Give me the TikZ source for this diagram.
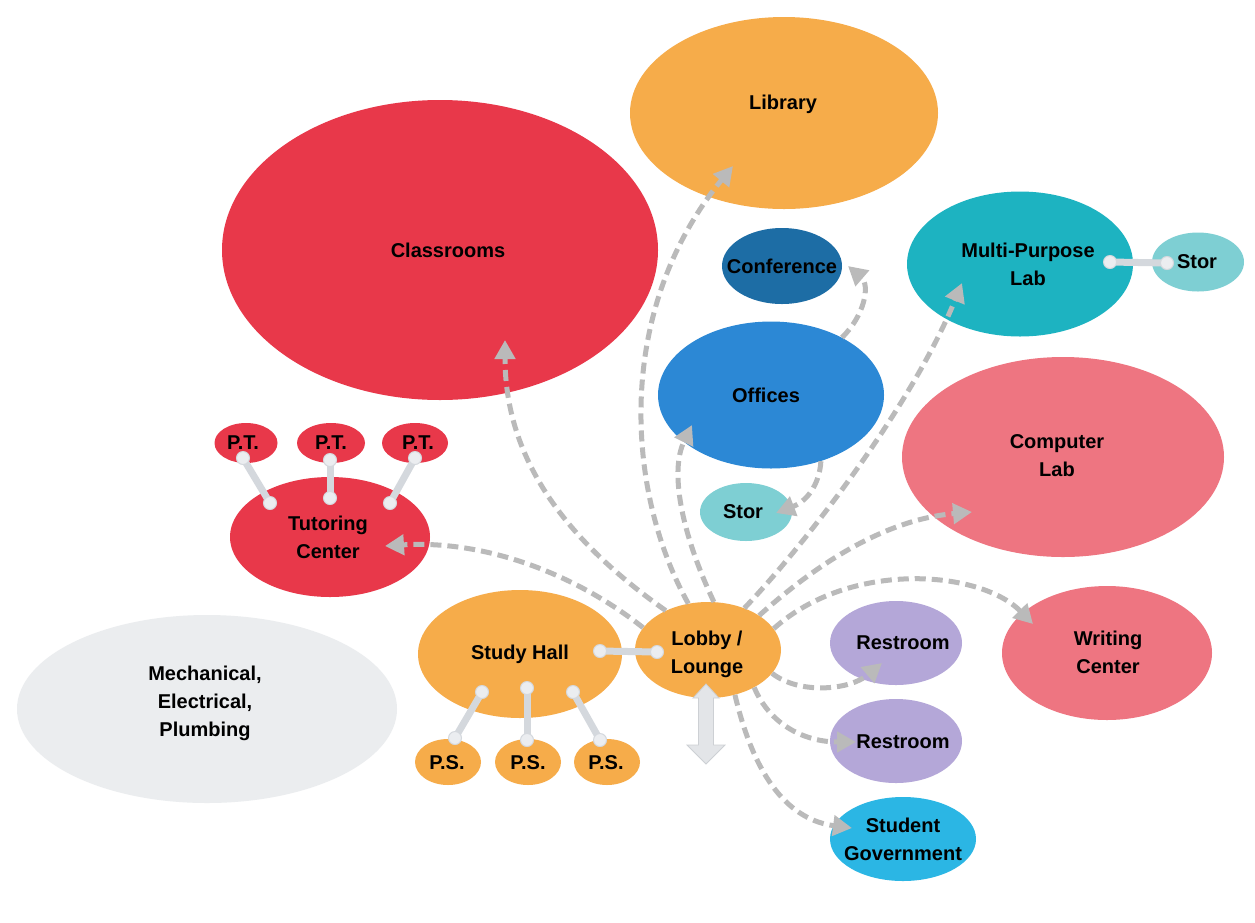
\documentclass[tikz,border=0pt]{standalone}
\usepackage{fontspec}
\setmainfont{Liberation Sans}
\usetikzlibrary{shapes.geometric,arrows.meta,calc}
\definecolor{orng}{HTML}{F6AC4A}
\definecolor{rred}{HTML}{E8384A}
\definecolor{confblue}{HTML}{1D6DA5}
\definecolor{offblue}{HTML}{2C88D5}
\definecolor{mplteal}{HTML}{1DB3C1}
\definecolor{storteal}{HTML}{7ECFD3}
\definecolor{pinkc}{HTML}{EE7581}
\definecolor{lav}{HTML}{B4A7D8}
\definecolor{sgblue}{HTML}{2BB6E4}
\definecolor{mepgray}{HTML}{EBEDEF}
\definecolor{flowgray}{HTML}{BABABA}
\definecolor{boneline}{HTML}{D4D8DD}
\definecolor{boneendc}{HTML}{EBEDF0}
\definecolor{blockfill}{HTML}{E3E5E8}
\definecolor{blockedge}{HTML}{CDD0D4}
\newcommand\bonelink[2]{\draw[bone] #1 -- #2; \filldraw[boneend] #1 circle[radius=6.5pt] #2 circle[radius=6.5pt];}
\begin{document}
\begin{tikzpicture}[x=1pt,y=-1pt,
 room/.style n args={3}{ellipse, fill=#1, minimum width=#2, minimum height=#3, inner sep=0pt},
 lbl/.style={font=\fontsize{20}{28}\selectfont\bfseries, align=center, inner sep=0pt, text=black},
 flow/.style={draw=flowgray, line width=5pt, dash pattern=on 11pt off 6pt, -{Triangle[width=20pt,length=19pt,fill=flowgray]}},
 bone/.style={draw=boneline, line width=7pt, line cap=round},
 boneend/.style={fill=boneendc, draw=boneline, line width=1pt},
 block/.style={fill=blockfill, draw=blockedge, line width=0.8pt, line join=miter}
]
\fill[white] (0,0) rectangle (1255,922);
\useasboundingbox (0,0) rectangle (1255,922);

% rooms
\node[room={orng}{308pt}{192pt}] (lib) at (784,113) {};
\node[lbl] (lib-t) at (783,104) {Library};
\node[room={rred}{436pt}{300pt}] (cls) at (440,250) {};
\node[lbl] (cls-t) at (448,250) {Classrooms};
\node[room={confblue}{120pt}{76pt}] (conf) at (782,266) {};
\node[lbl] (conf-t) at (782,266) {Conference};
\node[room={mplteal}{226pt}{145pt}] (mpl) at (1020,264) {};
\node[lbl] (mpl-t) at (1028,264) {Multi-Purpose\\Lab};
\node[room={storteal}{92pt}{59pt}] (stor1) at (1198,262) {};
\node[lbl] (stor1-t) at (1197,262) {Stor};
\node[room={offblue}{226pt}{147pt}] (off) at (771,395) {};
\node[lbl] (off-t) at (766,395) {Offices};
\node[room={storteal}{92pt}{58pt}] (stor2) at (746,512) {};
\node[lbl] (stor2-t) at (743,512) {Stor};
\node[room={pinkc}{322pt}{200pt}] (comp) at (1063,457) {};
\node[lbl] (comp-t) at (1057,456) {Computer\\Lab};
\node[room={rred}{63pt}{40pt}] (pt1) at (246,443) {};
\node[lbl] (pt1-t) at (243,443) {P.T.};
\node[room={rred}{68pt}{40pt}] (pt2) at (331,443) {};
\node[lbl] (pt2-t) at (331,443) {P.T.};
\node[room={rred}{66pt}{40pt}] (pt3) at (415,443) {};
\node[lbl] (pt3-t) at (418,443) {P.T.};
\node[room={rred}{200pt}{120pt}] (tut) at (330,537) {};
\node[lbl] (tut-t) at (328,537) {Tutoring\\Center};
\node[room={mepgray}{380pt}{188pt}] (mep) at (207,709) {};
\node[lbl] (mep-t) at (205,703) {Mechanical,\\Electrical,\\Plumbing};
\node[room={orng}{204pt}{128pt}] (study) at (520,654) {};
\node[lbl] (study-t) at (520,654) {Study Hall};
\node[room={orng}{146pt}{96pt}] (lobby) at (708,650) {};
\node[lbl] (lobby-t) at (707,654) {Lobby /\\Lounge};
\node[room={orng}{66pt}{46pt}] (ps1) at (448,762) {};
\node[lbl] (ps1-t) at (447,763) {P.S.};
\node[room={orng}{66pt}{46pt}] (ps2) at (528,762) {};
\node[lbl] (ps2-t) at (528,763) {P.S.};
\node[room={orng}{66pt}{46pt}] (ps3) at (607,762) {};
\node[lbl] (ps3-t) at (606,763) {P.S.};
\node[room={lav}{132pt}{84pt}] (r1) at (896,643) {};
\node[lbl] (r1-t) at (903,643) {Restroom};
\node[room={lav}{132pt}{84pt}] (r2) at (896,741) {};
\node[lbl] (r2-t) at (903,742) {Restroom};
\node[room={pinkc}{210pt}{134pt}] (wri) at (1107,653) {};
\node[lbl] (wri-t) at (1108,652) {Writing\\Center};
\node[room={sgblue}{146pt}{84pt}] (sg) at (903,839) {};
\node[lbl] (sg-t) at (903,839) {Student\\Government};

% dashed circulation arrows
\draw[flow] (lobby.113) .. controls (625,490) and (615,310) .. ($(lib)+(-51,53)$);
\draw[flow] (lobby.137) .. controls (580,550) and (505,470) .. ($(cls)+(65,90)$);
\draw[flow] (lobby.161) .. controls (570,570) and (480,540) .. ($(tut)+(55,9)$);
\draw[flow] (lobby.83) .. controls (680,530) and (670,470) .. ($(off)+(-79,30)$);
\draw[flow] (lobby.49) .. controls (800,550) and (910,410) .. ($(mpl)+(-58,19)$);
\draw[flow] (lobby.34) .. controls (810,570) and (880,520) .. ($(comp)+(-91,55)$);
\draw[flow] (lobby.18) .. controls (850,560) and (980,570) .. ($(wri)+(-74,-29)$);
\draw[flow] (lobby.-20) .. controls (800,695) and (850,690) .. ($(r1)+(-14,20)$);
\draw[flow] (lobby.-39) .. controls (770,725) and (805,742) .. ($(r2)+(-40,1)$);
\draw[flow] (lobby.-59) .. controls (755,780) and (790,820) .. ($(sg)+(-51,-11)$);
\draw[flow] (off.39) .. controls (865,315) and (870,285) .. ($(conf)+(66,0)$);
\draw[flow] (off.-53) .. controls (820,480) and (810,500) .. ($(stor2)+(30,1)$);

% solid adjacency links
\bonelink{($(study)+(80,-3)$)}{($(lobby)+(-51,2)$)}
\bonelink{($(study)+(-38,38)$)}{($(ps1)+(7,-24)$)}
\bonelink{($(study)+(7,34)$)}{($(ps2)+(-1,-22)$)}
\bonelink{($(study)+(53,38)$)}{($(ps3)+(-7,-22)$)}
\bonelink{($(tut)+(-60,-34)$)}{($(pt1)+(-3,15)$)}
\bonelink{($(tut)+(0,-39)$)}{($(pt2)+(-1,17)$)}
\bonelink{($(tut)+(60,-34)$)}{($(pt3)+(0,15)$)}
\bonelink{($(mpl)+(90,-2)$)}{($(stor1)+(-31,1)$)}

% vertical circulation block arrow
\draw[block] (706,684) -- (719,698) -- (713.5,698) -- (713.5,745) -- (725,745) -- (706,764)
  -- (687,745) -- (698.5,745) -- (698.5,698) -- (693,698) -- cycle;
\end{tikzpicture}
\end{document}
